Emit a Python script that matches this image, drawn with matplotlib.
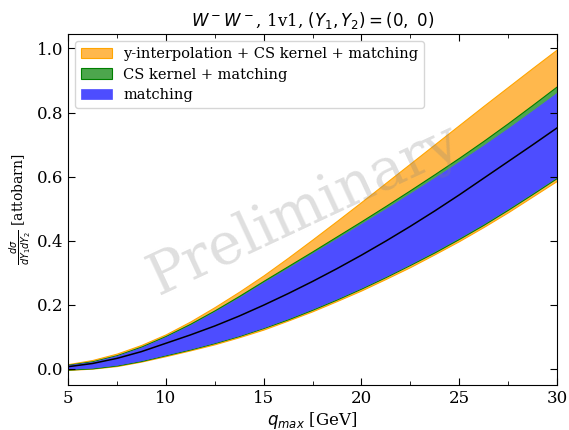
import numpy as np
import matplotlib
matplotlib.use('Agg')
import matplotlib.pyplot as plt
from matplotlib.ticker import MultipleLocator

plt.rcParams['font.family'] = 'DejaVu Serif'
plt.rcParams['mathtext.fontset'] = 'dejavusans'

# values
qmax = [5, 6.25, 7.5, 8.75, 10, 11.25, 12.5, 13.75, 15, 16.25, 17.5,
        18.75, 20, 21.25, 22.5, 23.75, 25, 26.25, 27.5, 28.75, 30]
central = [0.007, 0.017, 0.033, 0.054, 0.080, 0.106, 0.134, 0.165, 0.199, 0.235, 0.273,
           0.313, 0.355, 0.399, 0.445, 0.493, 0.543, 0.595, 0.647, 0.699, 0.752]
orange_hi = [0.015, 0.028, 0.048, 0.075, 0.108, 0.148, 0.193, 0.241, 0.292, 0.347, 0.404,
             0.462, 0.521, 0.581, 0.641, 0.701, 0.761, 0.821, 0.880, 0.939, 0.997]
orange_lo = [-0.003, 0.001, 0.009, 0.023, 0.040, 0.058, 0.077, 0.099, 0.123, 0.151, 0.180,
             0.212, 0.245, 0.281, 0.318, 0.358, 0.399, 0.443, 0.489, 0.538, 0.587]
green_hi = [0.013, 0.024, 0.043, 0.070, 0.103, 0.141, 0.183, 0.228, 0.275, 0.321, 0.367,
            0.414, 0.461, 0.509, 0.558, 0.608, 0.659, 0.712, 0.767, 0.824, 0.882]
green_lo = [-0.002, 0.002, 0.011, 0.025, 0.043, 0.061, 0.081, 0.103, 0.128, 0.155, 0.185,
            0.217, 0.251, 0.287, 0.325, 0.364, 0.406, 0.450, 0.497, 0.546, 0.596]
blue_hi = [0.012, 0.022, 0.041, 0.067, 0.100, 0.137, 0.179, 0.223, 0.270, 0.315, 0.361,
           0.407, 0.453, 0.500, 0.548, 0.597, 0.647, 0.698, 0.751, 0.806, 0.862]
blue_lo = [0.0, 0.004, 0.013, 0.027, 0.045, 0.063, 0.083, 0.105, 0.130, 0.158, 0.188,
           0.220, 0.254, 0.290, 0.328, 0.368, 0.410, 0.454, 0.501, 0.550, 0.600]

labels = ['y-interpolation + CS kernel + matching', 'CS kernel + matching', 'matching']

fig = plt.figure(figsize=(5.69, 4.30), dpi=100)
ax = fig.add_axes([0.1195, 0.1047, 0.8595, 0.8163])

ax.fill_between(qmax, orange_lo, orange_hi, color='#FFB84D', edgecolor='orange', lw=0.8, label=labels[0])
ax.fill_between(qmax, green_lo, green_hi, color='#4DA64D', edgecolor='green', lw=0.8, label=labels[1])
ax.fill_between(qmax, blue_lo, blue_hi, color='#4D4DFF', edgecolor='#4D4DFF', lw=0.5, label=labels[2])
ax.plot(qmax, central, color='black', lw=1.1)

ax.text(0.485, 0.50, 'Preliminary', transform=ax.transAxes, fontsize=41, color='gray',
        alpha=0.25, rotation=25, ha='center', va='center')

ax.set_xlim(5, 30)
ax.set_ylim(-0.05, 1.045)
ax.xaxis.set_major_locator(MultipleLocator(5))
ax.xaxis.set_minor_locator(MultipleLocator(2.5))
ax.yaxis.set_major_locator(MultipleLocator(0.2))
ax.tick_params(which='both', direction='in', top=True, right=True, labelsize=12)
ax.tick_params(which='major', length=5)
ax.tick_params(which='minor', length=3)

ax.set_xlabel(r'$q_{max}$ [GeV]', fontsize=12, labelpad=2)
ax.set_ylabel(r'$\frac{d\sigma}{dY_1 dY_2}$ [attobarn]', fontsize=10, labelpad=2)
ax.set_title(r'$W^-W^-$, 1v1, $(Y_1, Y_2) = (0,\ 0)$', fontsize=12)

ax.legend(loc='upper left', fontsize=10.5, handlelength=2.1, labelspacing=0.45, borderaxespad=0.5)

fig.savefig('out.png', dpi=100)
